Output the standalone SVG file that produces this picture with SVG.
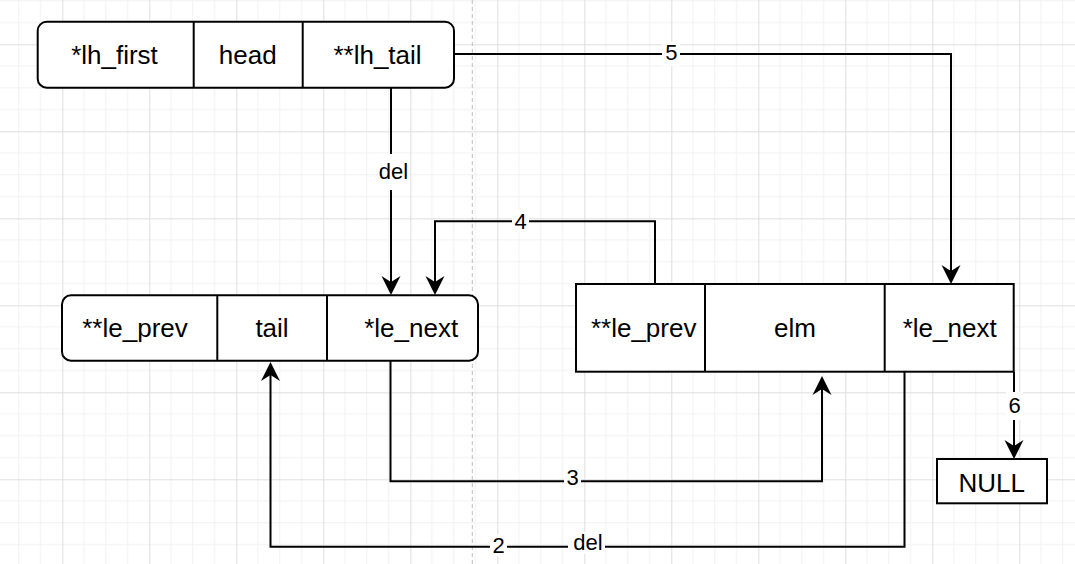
<svg xmlns="http://www.w3.org/2000/svg" width="1075" height="564" viewBox="0 0 1075 564">
<style>
.box{fill:#fff;stroke:#000;stroke-width:2}
.dv{stroke:#000;stroke-width:2;fill:none}
.t{font-family:"Liberation Sans",Arial,sans-serif;font-size:26px;text-anchor:middle;fill:#000}
.l{font-family:"Liberation Sans",Arial,sans-serif;font-size:22px;text-anchor:middle;fill:#000}
.edge{fill:none;stroke:#000;stroke-width:2}
.lb{fill:#fff}
</style>
<defs>
<pattern id="grid" x="62.3" y="44.3" width="87" height="87" patternUnits="userSpaceOnUse">
<path d="M21.75,0V87M43.5,0V87M65.25,0V87M0,21.75H87M0,43.5H87M0,65.25H87" stroke="#f1f1f1" stroke-width="1" fill="none"/>
<path d="M0.5,0V87M0,0.5H87" stroke="#dedede" stroke-width="1" fill="none"/>
</pattern>
<marker id="arr" viewBox="-20 -10 20 20" refX="-3" refY="0" markerWidth="20" markerHeight="20" markerUnits="userSpaceOnUse" orient="auto">
<path d="M0,0 L-19,-9.5 L-13,0 L-19,9.5 Z" fill="#000"/>
</marker>
</defs>
<rect width="1075" height="564" fill="#fff"/>
<rect width="1075" height="564" fill="url(#grid)"/>
<line x1="472.3" y1="0" x2="472.3" y2="564" stroke="#bdbdbd" stroke-width="1" stroke-dasharray="4 3"/>

<g id="edges">
<path class="edge" d="M454,54 H951 V281" marker-end="url(#arr)"/>
<path class="edge" d="M391,88 V292" marker-end="url(#arr)"/>
<path class="edge" d="M655,284 V221.3 H435 V292" marker-end="url(#arr)"/>
<path class="edge" d="M390.5,361 V481.3 H822 V379" marker-end="url(#arr)"/>
<path class="edge" d="M904.5,372 V546.7 H270.5 V365" marker-end="url(#arr)"/>
<path class="edge" d="M1014,372 V456" marker-end="url(#arr)"/>
<rect class="lb" x="662" y="42" width="18" height="24"/>
<text class="l" x="671.3" y="60">5</text>
<rect class="lb" x="378" y="154" width="31" height="36"/>
<text class="l" x="393.5" y="179">del</text>
<rect class="lb" x="512" y="210" width="17" height="22"/>
<text class="l" x="520.5" y="229.3">4</text>
<rect class="lb" x="564" y="468" width="17" height="22"/>
<text class="l" x="572.7" y="484.5">3</text>
<rect class="lb" x="490" y="534" width="17" height="22"/>
<text class="l" x="498.7" y="553">2</text>
<rect class="lb" x="568" y="532" width="37" height="22"/>
<text class="l" x="588" y="550">del</text>
<rect class="lb" x="1006" y="392" width="17" height="28"/>
<text class="l" x="1014.7" y="412.7">6</text>
</g>

<g id="head">
<rect class="box" x="37.7" y="21.7" width="416.3" height="66" rx="9" ry="9"/>
<path class="dv" d="M193.7,21.7V87.7M302.7,21.7V87.7"/>
<text class="t" x="114.5" y="64.3">*lh_first</text>
<text class="t" x="247.7" y="64.3">head</text>
<text class="t" x="377.5" y="64.3">**lh_tail</text>
</g>

<g id="tail">
<rect class="box" x="62" y="295.3" width="416" height="65.4" rx="9" ry="9"/>
<path class="dv" d="M217.3,295.3V360.7M327,295.3V360.7"/>
<text class="t" x="135" y="337.3">**le_prev</text>
<text class="t" x="272" y="337.3">tail</text>
<text class="t" x="411.2" y="337.3">*le_next</text>
</g>

<g id="elm">
<rect class="box" x="576" y="284" width="437.7" height="87.7"/>
<path class="dv" d="M705,284V371.7M884.7,284V371.7"/>
<text class="t" x="643.7" y="337.3">**le_prev</text>
<text class="t" x="795" y="337.3">elm</text>
<text class="t" x="949.7" y="337.3">*le_next</text>
</g>

<g id="null">
<rect class="box" x="937" y="459" width="110" height="44.3"/>
<text class="t" x="991.7" y="491.7">NULL</text>
</g>
</svg>
